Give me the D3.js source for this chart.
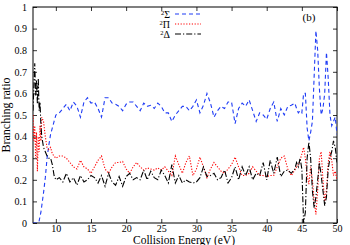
<!DOCTYPE html>
<html>
<head>
<meta charset="utf-8">
<script src="https://cdn.jsdelivr.net/npm/d3@7"></script>
<style>
  body { margin: 0; background: #fff; }
  svg text { font-family: "Liberation Serif", "DejaVu Serif", serif; fill: #000; }
</style>
</head>
<body>
<div id="graph"></div>
<script>
// collision energies (eV), finer near both ends
const energy = [6.75, 6.875, 7.0, 7.125, 7.25, 7.375, 7.5, 7.625, 7.75, 7.875, 8.0,
  8.25, 8.5, 8.75, 9.0, 9.25, 9.5, 9.75, 10.0,
  10.5, 11, 11.5, 12, 12.5, 13, 13.5, 14, 14.5, 15,
  15.5, 16, 16.5, 17, 17.5, 18, 18.5, 19, 19.5, 20,
  20.5, 21, 21.5, 22, 22.5, 23, 23.5, 24, 24.5, 25,
  25.5, 26, 26.5, 27, 27.5, 28, 28.5, 29, 29.5, 30,
  30.5, 31, 31.5, 32, 32.5, 33, 33.5, 34, 34.5, 35,
  35.5, 36, 36.5, 37, 37.5, 38, 38.5, 39, 39.5, 40,
  40.5, 41, 41.5, 42, 42.5, 43, 43.5, 44,
  44.25, 44.5, 44.75, 45, 45.25, 45.5, 45.75, 46, 46.25, 46.5, 46.75, 47,
  47.25, 47.5, 47.75, 48, 48.25, 48.5, 48.75, 49, 49.25, 49.5, 49.75, 50];

const sigma = [0, 0, 0, 0, 0, 0, 0, 0.01, 0.03, 0.05, 0.08,
  0.14, 0.21, 0.3, 0.36, 0.41, 0.44, 0.47, 0.5,
  0.51, 0.53, 0.55, 0.52, 0.56, 0.54, 0.49, 0.56, 0.58, 0.555,
  0.56, 0.53, 0.49, 0.58, 0.58, 0.555, 0.55, 0.54, 0.52, 0.55,
  0.56, 0.56, 0.54, 0.52, 0.555, 0.54, 0.545, 0.53, 0.555, 0.54,
  0.51, 0.51, 0.47, 0.5, 0.52, 0.54, 0.54, 0.52, 0.54, 0.57,
  0.51, 0.545, 0.6, 0.555, 0.49, 0.52, 0.54, 0.53, 0.56, 0.56,
  0.46, 0.53, 0.555, 0.54, 0.57, 0.52, 0.47, 0.51, 0.5, 0.48,
  0.53, 0.56, 0.47, 0.53, 0.5, 0.54, 0.545, 0.555,
  0.53, 0.51, 0.52, 0.51, 0.6, 0.6, 0.44, 0.38, 0.42, 0.47, 0.68, 0.89,
  0.8, 0.62, 0.5, 0.53, 0.6, 0.79, 0.67, 0.5, 0.45, 0.47, 0.49, 0.41];

const pi = [0.5, 0.38, 0.45, 0.3, 0.42, 0.24, 0.4, 0.33, 0.45, 0.38, 0.49,
  0.47, 0.4, 0.35, 0.34, 0.35, 0.32, 0.31, 0.3,
  0.31, 0.31, 0.3, 0.28, 0.26, 0.25, 0.29, 0.26, 0.25, 0.23,
  0.26, 0.29, 0.31, 0.25, 0.23, 0.26, 0.28, 0.28, 0.285, 0.25,
  0.23, 0.26, 0.28, 0.26, 0.245, 0.255, 0.25, 0.245, 0.255, 0.245,
  0.26, 0.24, 0.22, 0.31, 0.27, 0.23, 0.28, 0.31, 0.22, 0.25,
  0.305, 0.26, 0.21, 0.25, 0.28, 0.26, 0.24, 0.23, 0.25, 0.27,
  0.305, 0.26, 0.22, 0.22, 0.23, 0.26, 0.24, 0.22, 0.22, 0.215,
  0.22, 0.22, 0.26, 0.3, 0.31, 0.25, 0.22, 0.245,
  0.26, 0.27, 0.29, 0.32, 0.35, 0.3, 0.22, 0.18, 0.26, 0.2, 0.1, 0.04,
  0.15, 0.3, 0.33, 0.2, 0.1, 0.15, 0.28, 0.33, 0.29, 0.22, 0.24, 0.2];

const delta = [0.52, 0.63, 0.74, 0.59, 0.66, 0.55, 0.67, 0.52, 0.56, 0.45, 0.4,
  0.35, 0.33, 0.31, 0.3, 0.3, 0.27, 0.22, 0.2,
  0.21, 0.19, 0.23, 0.19, 0.21, 0.175, 0.22, 0.19, 0.2, 0.22,
  0.21, 0.185, 0.22, 0.17, 0.23, 0.19, 0.175, 0.215, 0.17, 0.215,
  0.23, 0.2, 0.21, 0.2, 0.245, 0.2, 0.24, 0.21, 0.2, 0.245,
  0.22, 0.185, 0.27, 0.185, 0.22, 0.185, 0.2, 0.19, 0.185, 0.19,
  0.21, 0.26, 0.215, 0.22, 0.23, 0.2, 0.21, 0.245, 0.185, 0.21,
  0.26, 0.2, 0.26, 0.22, 0.26, 0.2, 0.23, 0.22, 0.28, 0.2,
  0.29, 0.23, 0.305, 0.215, 0.24, 0.245, 0.23, 0.25,
  0.28, 0.26, 0.3, 0.25, 0.0, 0.05, 0.3, 0.375, 0.3, 0.15, 0.07, 0.12,
  0.2, 0.28, 0.22, 0.15, 0.08, 0.12, 0.25, 0.3, 0.33, 0.38, 0.35, 0.28];

const xTicks = [10, 15, 20, 25, 30, 35, 40, 45, 50];
const yTicks = [0, 0.1, 0.2, 0.3, 0.4, 0.5, 0.6, 0.7, 0.8, 0.9, 1];

const seriesNames = ["Σ", "Π", "Δ"];
const seriesColors = ["#1f3cf5", "#ff0000", "#000000"];
const seriesDash = ["4,3", "1.2,1.6", "6,2,1.2,2"];
const seriesData = [sigma, pi, delta];

let margin = {top: 7, right: 13, bottom: 22, left: 33},
  width = 350 - margin.left - margin.right,
  height = 245 - margin.top - margin.bottom;

let svg = d3.select("#graph")
  .append("svg")
  .attr("width", 350)
  .attr("height", 245);

let g = svg.append("g")
  .attr("transform", "translate(" + margin.left + "," + margin.top + ")");

let x = d3.scaleLinear().domain([6.75, 50]).range([0, width]);
let y = d3.scaleLinear().domain([0, 1]).range([height, 0]);

svg.append("clipPath").attr("id", "clip")
  .append("rect").attr("width", width).attr("height", height);

// axes, ticks pointing inwards and mirrored
let fmtY = d => d === 0 ? "0" : d === 1 ? "1" : d3.format(".1f")(d);

let xb = g.append("g").attr("transform", "translate(0," + height + ")")
  .call(d3.axisBottom(x).tickValues(xTicks).tickSizeInner(-4).tickSizeOuter(0));
let xt = g.append("g")
  .call(d3.axisTop(x).tickValues(xTicks).tickSizeInner(-4).tickSizeOuter(0).tickFormat(""));
let yl = g.append("g")
  .call(d3.axisLeft(y).tickValues(yTicks).tickSizeInner(-4).tickSizeOuter(0).tickPadding(6).tickFormat(fmtY));
let yr = g.append("g").attr("transform", "translate(" + width + ",0)")
  .call(d3.axisRight(y).tickValues(yTicks).tickSizeInner(-4).tickSizeOuter(0).tickFormat(""));

[xb, xt, yl, yr].forEach(a => {
  a.select(".domain").remove();
  a.selectAll("line").attr("stroke", "#000").attr("stroke-width", 0.8);
  a.selectAll("text").style("font-family", "Liberation Serif, serif").style("font-size", "10px");
});
// bottom tick labels sit just below the frame
xb.selectAll("text").attr("y", 2);

g.append("rect")
  .attr("width", width).attr("height", height)
  .attr("fill", "none").attr("stroke", "#000").attr("stroke-width", 1);

// curves
let line = d3.line()
  .x((d, i) => x(energy[i]))
  .y(d => y(d));

let curves = g.append("g").attr("clip-path", "url(#clip)");
seriesData.forEach((s, k) => {
  curves.append("path")
    .datum(s)
    .attr("d", line)
    .attr("fill", "none")
    .attr("stroke", seriesColors[k])
    .attr("stroke-width", 1.1)
    .attr("stroke-dasharray", seriesDash[k]);
});

// legend
let legend = svg.append("g");
seriesNames.forEach((name, k) => {
  let ly = 14 + k * 10;
  let t = legend.append("text")
    .attr("x", 170).attr("y", ly + 4)
    .attr("text-anchor", "end")
    .style("font-size", "10px");
  t.append("tspan").attr("dy", -3.5).style("font-size", "6.5px").text("2");
  t.append("tspan").attr("dy", 3.5).text(name);
  legend.append("line")
    .attr("x1", 175).attr("x2", 201)
    .attr("y1", ly).attr("y2", ly)
    .attr("stroke", seriesColors[k])
    .attr("stroke-width", 1.1)
    .attr("stroke-dasharray", seriesDash[k]);
});

svg.append("text")
  .attr("x", 309).attr("y", 21)
  .attr("text-anchor", "middle")
  .style("font-size", "11px")
  .text("(b)");

svg.append("text")
  .attr("transform", "translate(10," + (margin.top + height / 2) + ") rotate(-90)")
  .attr("text-anchor", "middle")
  .style("font-size", "12px")
  .text("Branching ratio");

svg.append("text")
  .attr("x", 184).attr("y", 244)
  .attr("text-anchor", "middle")
  .style("font-size", "11.5px")
  .text("Collision Energy (eV)");
</script>
</body>
</html>
